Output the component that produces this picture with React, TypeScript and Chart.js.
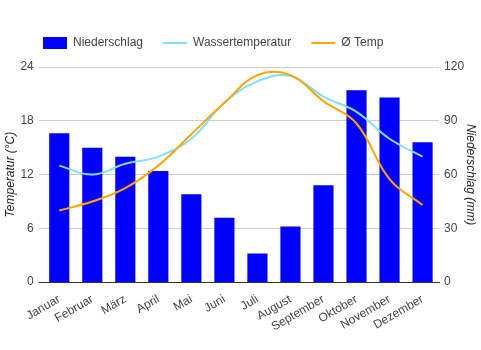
import React, { useEffect, useRef } from "react";
import { Chart, registerables } from "chart.js";

Chart.register(...registerables);

const months = ["Januar", "Februar", "März", "April", "Mai", "Juni", "Juli", "August", "September", "Oktober", "November", "Dezember"];
const niederschlag = [83, 75, 70, 62, 49, 36, 16, 31, 54, 107, 103, 78];
const wassertemperatur = [13, 12, 13.2, 14, 16, 20, 22.4, 23, 20.7, 19, 16, 14];
const temp = [8, 9, 10.5, 13, 16.5, 20, 23.1, 23.1, 20.2, 17.7, 11.5, 8.6];
const leftTicks = [0, 6, 12, 18, 24];
const rightTicks = [0, 30, 60, 90, 120];

const FONT = "'Liberation Sans', Arial, sans-serif";

const legendShift = {
  id: "legendShift",
  beforeLayout(chart: any) {
    const lg = chart.legend;
    if (lg && !lg.__patched) {
      const orig = lg.fit.bind(lg);
      lg.fit = function () {
        orig();
        this.height += 8;
      };
      lg.__patched = true;
    }
  },
  afterLayout(chart: any) {
    if (chart.legend) {
      chart.legend.left += 23;
    }
  },
};

export default function App() {
  const ref = useRef<HTMLCanvasElement | null>(null);
  useEffect(() => {
    if (!ref.current) return;
    const chart = new Chart(ref.current, {
      data: {
        labels: months,
        datasets: [
          {
            type: "bar",
            label: "Niederschlag",
            data: niederschlag,
            backgroundColor: "#0000ff",
            yAxisID: "y1",
            categoryPercentage: 1,
            barPercentage: 0.61,
            pointStyle: "rect",
            order: 3,
          },
          {
            type: "line",
            label: "Wassertemperatur",
            data: wassertemperatur,
            borderColor: "#80dfff",
            backgroundColor: "#80dfff",
            borderWidth: 2,
            pointRadius: 0,
            tension: 0.4,
            yAxisID: "y",
            pointStyle: "line",
            order: 2,
          },
          {
            type: "line",
            label: "Ø Temp",
            data: temp,
            borderColor: "#ffa500",
            backgroundColor: "#ffa500",
            borderWidth: 2,
            pointRadius: 0,
            tension: 0.4,
            yAxisID: "y",
            pointStyle: "line",
            order: 1,
          },
        ] as any,
      },
      plugins: [legendShift],
      options: {
        animation: false,
        responsive: false,
        layout: { padding: { left: 0, right: 0, top: 17, bottom: 14 } },
        plugins: {
          legend: {
            position: "top",
            align: "start",
            labels: {
              usePointStyle: true,
              pointStyleWidth: 24,
              boxHeight: 12,
              padding: 20,
              color: "#444",
              font: { family: FONT, size: 12 },
              sort: (a: any, b: any) => a.datasetIndex - b.datasetIndex,
            },
          },
          tooltip: { enabled: false },
        },
        scales: {
          x: {
            grid: { display: false },
            border: { color: "#333" },
            ticks: {
              color: "#444",
              font: { family: FONT, size: 12 },
              maxRotation: 30,
              minRotation: 30,
              autoSkip: false,
              padding: 2,
            },
          },
          y: {
            position: "left",
            min: 0,
            max: 24,
            afterBuildTicks: (axis: any) => {
              axis.ticks = leftTicks.map((v) => ({ value: v }));
            },
            afterFit: (scale: any) => {
              scale.width -= 5;
            },
            grid: {
              color: (c: any) => (c.tick && c.tick.value === 0 ? "#333" : "#ccc"),
              tickLength: 4,
            },
            border: { display: false },
            ticks: { color: "#444", font: { family: FONT, size: 12 }, padding: 5 },
            title: {
              display: true,
              text: "Temperatur (°C)",
              color: "#222",
              font: { family: FONT, size: 12, style: "italic" },
              padding: { top: 3, bottom: 3 },
            },
          },
          y1: {
            position: "right",
            min: 0,
            max: 120,
            afterBuildTicks: (axis: any) => {
              axis.ticks = rightTicks.map((v) => ({ value: v }));
            },
            afterFit: (scale: any) => {
              scale.width -= 5.5;
            },
            grid: { display: false, drawOnChartArea: false, drawTicks: false },
            border: { display: false },
            ticks: { color: "#444", font: { family: FONT, size: 12 }, padding: 5 },
            title: {
              display: true,
              text: "Niederschlag (mm)",
              color: "#222",
              font: { family: FONT, size: 12, style: "italic" },
              padding: { top: 3, bottom: 0 },
            },
          },
        },
      } as any,
    });
    return () => chart.destroy();
  }, []);
  return <canvas ref={ref} width={481} height={350} style={{ display: "block", position: "absolute", left: 0, top: 0 }} />;
}
